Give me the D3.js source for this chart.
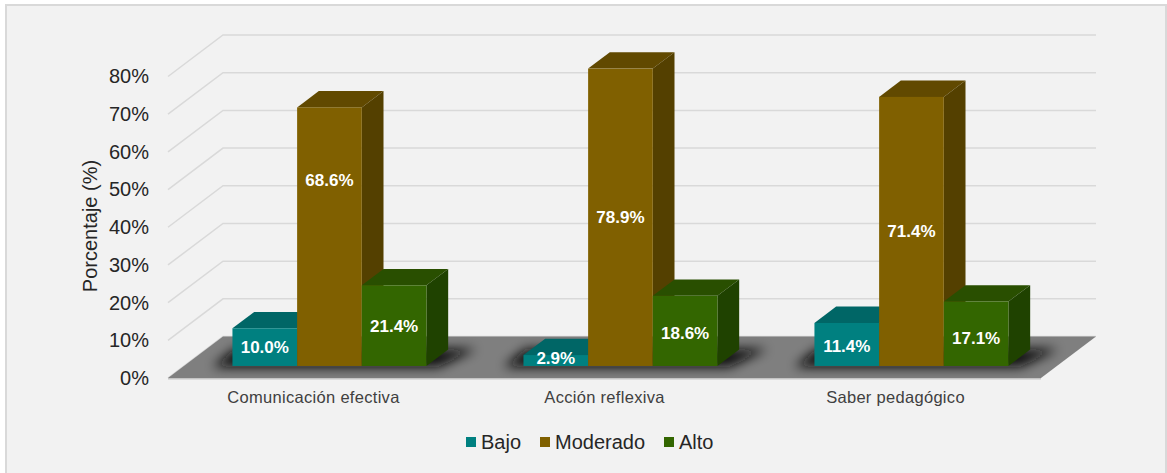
<!DOCTYPE html>
<html>
<head>
<meta charset="utf-8">
<script src="https://d3js.org/d3.v7.min.js"></script>
<style>
  html, body { margin: 0; padding: 0; background: #fff; }
  svg { display: block; font-family: "Liberation Sans", Arial, sans-serif; }
</style>
</head>
<body>
<div id="chart"></div>
<script>
const categories = ["Comunicación efectiva", "Acción reflexiva", "Saber pedagógico"];
const seriesNames = ["Bajo", "Moderado", "Alto"];
const bajo = [10.0, 2.9, 11.4];
const moderado = [68.6, 78.9, 71.4];
const alto = [21.4, 18.6, 17.1];
const yTicks = [0, 10, 20, 30, 40, 50, 60, 70, 80];

const width = 1167;
const height = 473;

const svg = d3.select("#chart").append("svg")
    .attr("width", width)
    .attr("height", height);

// front colour, top colour, side colour
const fronts = ["#008080", "#806000", "#336600"];
const tops = ["#006666", "#614900", "#294f00"];
const sides = ["#005252", "#544000", "#1f4200"];

const x = d3.scaleBand().domain(categories).range([168, 1041]);
const y = d3.scaleLinear().domain([0, 80]).range([378, 76.5]);
const inner = d3.scaleBand().domain(seriesNames).range([0, x.bandwidth() * 2 / 3]);
const groupPad = x.bandwidth() / 6;

// oblique depth of the 3d box
const depthX = 55, depthY = 41.5;
const barStart = 0.29, barDepth = 0.395;

const defs = svg.append("defs");
defs.append("filter").attr("id", "blur")
    .attr("x", "-30%").attr("y", "-80%").attr("width", "160%").attr("height", "260%")
    .append("feGaussianBlur").attr("stdDeviation", 6);
defs.append("clipPath").attr("id", "floorClip")
    .append("polygon")
    .attr("points", floorPoints());

function floorPoints() {
    return [[168, y(0)], [1041, y(0)], [1041 + depthX, y(0) - depthY], [168 + depthX, y(0) - depthY]].join(" ");
}

svg.append("rect")
    .attr("x", 6).attr("y", 5)
    .attr("width", 1160).attr("height", 472)
    .attr("fill", "#f2f2f2")
    .attr("stroke", "#d9d9d9")
    .attr("stroke-width", 2);

// gridlines, side wall then back wall
const grid = svg.append("g").attr("fill", "none").attr("stroke", "#d9d9d9").attr("stroke-width", 1.5);
grid.selectAll("path")
    .data(yTicks)
    .enter()
    .append("path")
    .attr("d", d => `M168,${y(d)}L${168 + depthX},${y(d) - depthY}H${1041 + depthX}`);

// floor
svg.append("polygon")
    .attr("points", [[168, y(0) + 1.5], [1041, y(0) + 1.5], [1041, y(0)], [168, y(0)]].join(" "))
    .attr("fill", "#c4c4c4");
svg.append("polygon")
    .attr("points", floorPoints())
    .attr("fill", "#7f7f7f");

// shadows under each group
const shadows = svg.append("g").attr("clip-path", "url(#floorClip)");
shadows.selectAll("polygon")
    .data(categories)
    .enter()
    .append("polygon")
    .attr("points", d => {
        const x0 = x(d) + groupPad + depthX * barStart;
        const x1 = x0 + x.bandwidth() * 2 / 3;
        const yb = y(0) - depthY * barStart;
        return [[x0 - 20, yb + 1], [x1 + 12, yb + 1], [x1 + 50, yb - 17], [x0 + 2, yb - 17]].join(" ");
    })
    .attr("fill", "#0a0a0a")
    .attr("filter", "url(#blur)");

// bars
const seriesValues = [bajo, moderado, alto];
const bars = [];
categories.forEach((c, i) => {
    seriesNames.forEach((s, j) => {
        bars.push({ category: c, series: s, s: j, c: i, value: seriesValues[j][i] });
    });
});

const bar = svg.selectAll(".bar")
    .data(bars)
    .enter()
    .append("g")
    .attr("class", "bar");

const bx0 = d => x(d.category) + groupPad + inner(d.series) + depthX * barStart;
const bx1 = d => bx0(d) + inner.bandwidth();
const by0 = () => y(0) - depthY * barStart;
const by1 = d => y(d.value) - depthY * barStart;
const dx = depthX * barDepth, dy = depthY * barDepth;

bar.append("polygon")
    .attr("points", d => [[bx0(d), by1(d)], [bx1(d), by1(d)], [bx1(d) + dx, by1(d) - dy], [bx0(d) + dx, by1(d) - dy]].join(" "))
    .attr("fill", d => tops[d.s]);
bar.append("polygon")
    .attr("points", d => [[bx1(d), by1(d)], [bx1(d) + dx, by1(d) - dy], [bx1(d) + dx, by0() - dy], [bx1(d), by0()]].join(" "))
    .attr("fill", d => sides[d.s]);
bar.append("rect")
    .attr("x", bx0)
    .attr("y", by1)
    .attr("width", inner.bandwidth())
    .attr("height", d => by0() - by1(d))
    .attr("fill", d => fronts[d.s]);

// labels were nudged by hand in the original
const labelNudge = { "68.6": -57, "2.9": -2, "17.1": 4, "18.6": 2, "11.4": 2 };
svg.selectAll(".label")
    .data(bars)
    .enter()
    .append("text")
    .attr("class", "label")
    .attr("x", d => bx0(d) + inner.bandwidth() / 2)
    .attr("y", d => (by0() + by1(d)) / 2 + (labelNudge[d.value.toFixed(1)] || 0))
    .attr("dy", "0.35em")
    .attr("text-anchor", "middle")
    .attr("font-size", 17)
    .attr("font-weight", "bold")
    .attr("fill", "#fff")
    .text(d => d.value.toFixed(1) + "%");

// axes
const yAxis = svg.append("g")
    .attr("transform", "translate(158,0)")
    .call(d3.axisLeft(y).tickValues(yTicks).tickSize(0).tickPadding(9).tickFormat(d => d + "%"));
yAxis.select(".domain").remove();
yAxis.selectAll("text")
    .attr("font-size", 20)
    .attr("font-family", "'Liberation Sans', Arial, sans-serif")
    .attr("fill", "#262626");

const xAxis = svg.append("g")
    .attr("transform", `translate(0,${y(0)})`)
    .call(d3.axisBottom(x).tickSize(0).tickPadding(13));
xAxis.select(".domain").remove();
xAxis.selectAll("text")
    .attr("font-size", 16.5)
    .attr("letter-spacing", 0.3)
    .attr("font-family", "'Liberation Sans', Arial, sans-serif")
    .attr("fill", "#404040");

svg.append("text")
    .attr("transform", "translate(90,226) rotate(-90)")
    .attr("dy", "0.35em")
    .attr("text-anchor", "middle")
    .attr("font-size", 20)
    .attr("fill", "#262626")
    .text("Porcentaje (%)");

// legend
const legendX = [466, 540, 664];
const legend = svg.selectAll(".legend")
    .data(seriesNames)
    .enter()
    .append("g")
    .attr("class", "legend")
    .attr("transform", (d, i) => `translate(${legendX[i]},437)`);
legend.append("rect")
    .attr("width", 10)
    .attr("height", 10)
    .attr("fill", (d, i) => fronts[i]);
legend.append("text")
    .attr("x", 15)
    .attr("y", 5)
    .attr("dy", "0.35em")
    .attr("font-size", 20)
    .attr("fill", "#262626")
    .text(d => d);
</script>
</body>
</html>
